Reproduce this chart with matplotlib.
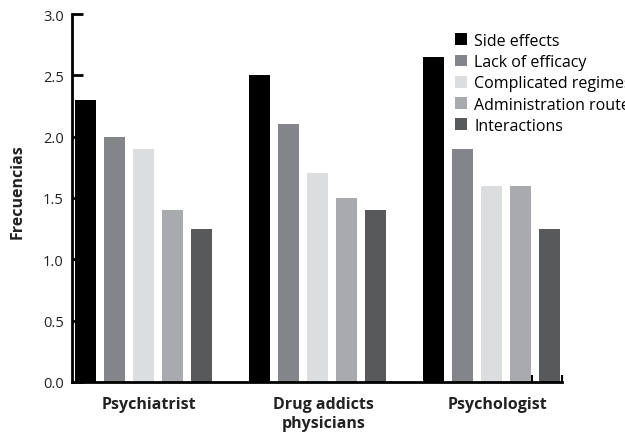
import matplotlib
matplotlib.use("Agg")
import matplotlib.pyplot as plt
import numpy as np

groups = ["Psychiatrist", "Drug addicts\nphysicians", "Psychologist"]
series = ["Side effects", "Lack of efficacy", "Complicated regimes",
          "Administration routes", "Interactions"]
side_effects = [2.3, 2.5, 2.65]
lack_of_efficacy = [2.0, 2.1, 1.9]
complicated_regimes = [1.9, 1.7, 1.6]
administration_routes = [1.4, 1.5, 1.6]
interactions = [1.25, 1.4, 1.25]
yticks = [0.0, 0.5, 1.0, 1.5, 2.0, 2.5, 3.0]

values = [side_effects, lack_of_efficacy, complicated_regimes,
          administration_routes, interactions]
colors = ["#000000", "#848589", "#dcdddf", "#a9aaad", "#58595b"]

plt.rcParams["font.family"] = ["Open Sans", "DejaVu Sans"]

fig = plt.figure(figsize=(6.25, 4.39), dpi=100)
ax = fig.add_axes([0.1152, 0.1276, 0.784, 0.8382])

group_pos = np.arange(len(groups)) * 6.0
for j, (vals, c, name) in enumerate(zip(values, colors, series)):
    ax.bar(group_pos + j, vals, width=0.72, color=c, label=name, zorder=3)

ax.set_xlim(-0.47, 16.43)
ax.set_ylim(0, 3.0)
ax.set_yticks(yticks)
ax.set_yticklabels([f"{v:.1f}" for v in yticks], fontsize=10.5, color="#222222")
ax.tick_params(axis="y", direction="in", length=8, width=2, pad=6, color="black")

ax.set_xticks(group_pos + 2.2)
ax.set_xticklabels(groups, fontsize=11.5, fontweight="bold", color="#222222",
                   linespacing=1.3)
ax.tick_params(axis="x", length=0, pad=10)
ax.set_xticks([15.4, 16.43], minor=True)
ax.tick_params(axis="x", which="minor", direction="in", length=5, width=1.5)

for s in ["top", "right"]:
    ax.spines[s].set_visible(False)
for s in ["left", "bottom"]:
    ax.spines[s].set_linewidth(2)
    ax.spines[s].set_zorder(4)

ax.set_ylabel("Frecuencias", fontsize=11.5, fontweight="bold", color="#222222")
ax.yaxis.set_label_coords(-0.095, 0.52)

leg = fig.legend(loc="upper left", bbox_to_anchor=(0.728, 0.923), frameon=False,
                 fontsize=11.5, handlelength=0.75, handleheight=0.75,
                 handletextpad=0.45, labelspacing=0.33, borderpad=0,
                 borderaxespad=0)

fig.savefig("out.png", dpi=100)
